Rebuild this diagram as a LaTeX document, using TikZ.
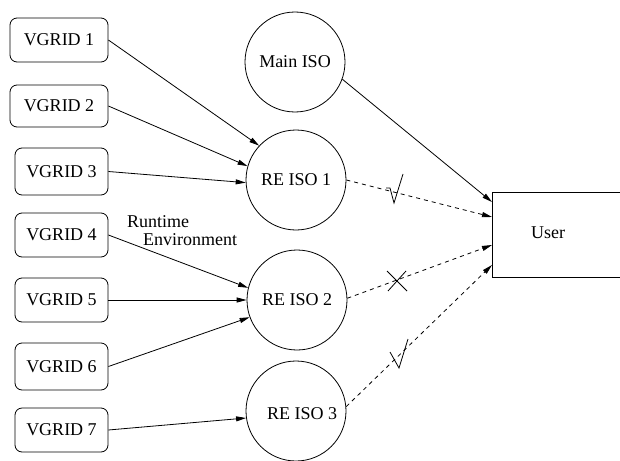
\documentclass[tikz,border=0pt]{standalone}
\usepackage{fontspec}
\setmainfont{Liberation Serif}
\usetikzlibrary{arrows.meta}
\tikzset{
  lbl/.style={font=\fontsize{18}{20}\selectfont},
  vg/.style={lbl, draw, rounded corners=7pt, inner sep=0pt, line width=0.8pt},
  iso/.style={lbl, draw, circle, minimum size=100pt, inner sep=0pt, line width=0.8pt},
  arr/.style={-{Triangle[length=10pt,width=5pt]}, line width=0.8pt},
  darr/.style={arr, dash pattern=on 4pt off 4pt},
  chk/.style={line width=0.8pt}
}
\begin{document}
\begin{tikzpicture}[x=1pt,y=-1pt]
\useasboundingbox (0,0) rectangle (620,460);
% VGRID boxes
\node[vg, minimum width=98pt, minimum height=44pt] (v1) at (59,40) {VGRID 1};
\node[vg, minimum width=98pt, minimum height=42pt] (v2) at (59,106) {VGRID 2};
\node[vg, minimum width=93pt, minimum height=47pt] (v3) at (61.5,171.5) {VGRID 3};
\node[vg, minimum width=93pt, minimum height=44pt] (v4) at (61.5,235) {VGRID 4};
\node[vg, minimum width=93pt, minimum height=44pt] (v5) at (61.5,300) {VGRID 5};
\node[vg, minimum width=93pt, minimum height=47pt] (v6) at (61.5,366.5) {VGRID 6};
\node[vg, minimum width=93pt, minimum height=44pt] (v7) at (61.5,430) {VGRID 7};
% circles
\node[iso] (main) at (295,62) {Main ISO};
\node[iso] (re1) at (296,180) {RE ISO 1};
\node[iso] (re2) at (297,300) {RE ISO 2};
\node[iso] (re3) at (296,411) {};
\node[lbl] (re3t) at (302,414) {RE ISO 3};
% user box
\node[draw, line width=0.8pt, minimum width=140pt, minimum height=85pt, inner sep=0pt] (user) at (562,234.5) {};
\node[lbl] (usert) at (548,233) {User};
% runtime label
\node[lbl, anchor=west, inner sep=0pt] (rt) at (127,222) {Runtime};
\node[lbl, anchor=west, inner sep=0pt] (env) at (143,240) {Environment};
% coordinates on user box
\coordinate (ua) at (492,202);
\coordinate (ub) at (492,217);
\coordinate (uc) at (492,245);
\coordinate (ud) at (492,265);
% arrows
\draw[arr] (v1.east) -- (re1.137);
\draw[arr] (v2.east) -- (re1.164);
\draw[arr] (v3.east) -- (re1.183);
\draw[arr] (v4.east) -- (re2.166);
\draw[arr] (v5.east) -- (re2.180);
\draw[arr] (v6.east) -- (re2.200);
\draw[arr] (v7.east) -- (re3.188);
\draw[arr] (main.-20) -- (ua);
\draw[darr] (re1.east) -- (ub);
\draw[darr] (re2.2) -- (uc);
\draw[darr] (re3.5) -- (ud);
% marks
\draw[chk] (386,188) -- (390,188) -- (394,203) -- (403,174);
\draw[chk] (387,271) -- (407,291) (388,291) -- (406,271);
\draw[chk] (390,352) -- (399,368) -- (408,339);
\end{tikzpicture}
\end{document}
